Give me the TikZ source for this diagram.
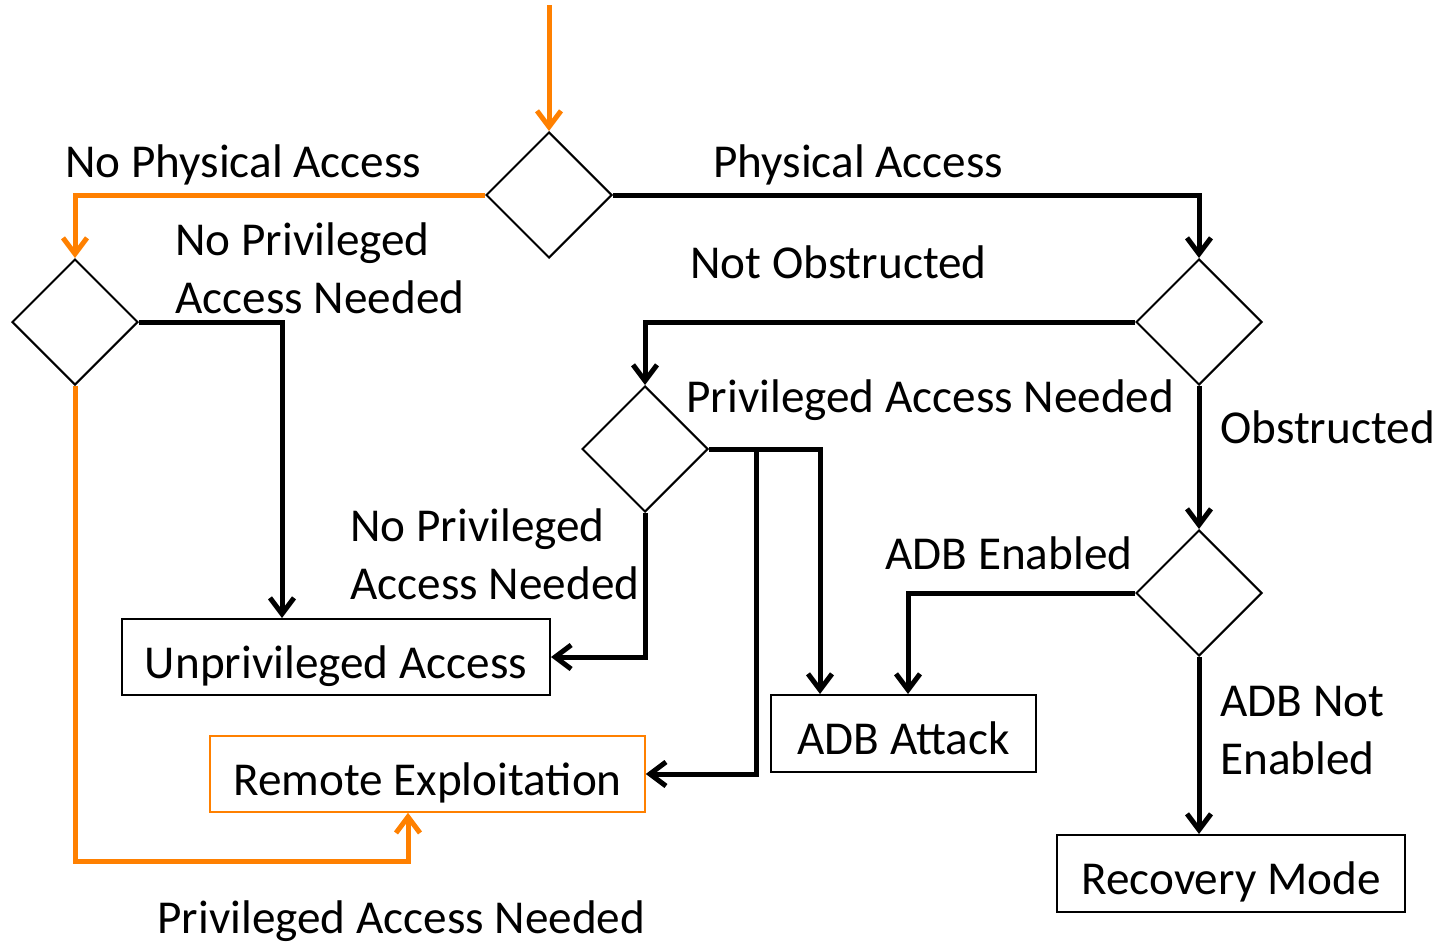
\documentclass[tikz,border=0pt]{standalone}
\usepackage{fontspec}
\setmainfont{Carlito}
\usetikzlibrary{arrows.meta,shapes.geometric}
\definecolor{orng}{RGB}{255,128,0}
\begin{document}
\begin{tikzpicture}[x=0.5pt,y=-0.5pt,
  every node/.style={font=\fontsize{23.6}{29}\selectfont},
  dec/.style={draw=black,line width=1pt,shape=diamond,aspect=1,inner sep=0pt,minimum width=63pt,minimum height=63pt},
  box/.style={draw=black,line width=1pt,inner sep=0pt,text height=23pt,text depth=2pt},
  obox/.style={draw=orng,line width=0.8pt,inner sep=0pt,text height=23pt,text depth=2pt},
  conn/.style={draw=black,line width=2.5pt,-{Straight Barb[length=8pt,width=12pt]}},
  oconn/.style={draw=orng,line width=2.5pt,-{Straight Barb[length=8pt,width=12pt]}},
  lbl/.style={anchor=base west,inner sep=0pt,align=left}]
\useasboundingbox (0,0) rectangle (1442,942);
% decisions
\node[dec] (d1) at (549,195) {};
\node[dec] (d2) at (75,322) {};
\node[dec] (d3) at (1199,322) {};
\node[dec] (d4) at (645,449) {};
\node[dec] (d5) at (1199,593) {};
% outcomes
\node[box,minimum width=214pt,minimum height=38pt] (unpriv) at (336,657) {Unprivileged Access};
\node[obox,minimum width=217.5pt,minimum height=38pt] (remote) at (427.5,774) {Remote Exploitation};
\node[box,minimum width=132.5pt,minimum height=38.5pt] (adb) at (903.5,733.5) {ADB Attack};
\node[box,minimum width=174pt,minimum height=38.5pt] (rec) at (1231,873.5) {Recovery Mode};
% coordinates
\coordinate (start) at (549,5);
\coordinate (br) at (756,449);
% connectors
\draw[oconn] (start) -- (d1.north);
\draw[oconn] (d1.west) -| (d2.north);
\draw[conn] (d2.east) -| ([xshift=-27pt]unpriv.north);
\draw[oconn] (d2.south) -- ++(0,475) -| ([xshift=-9.75pt]remote.south);
\draw[conn] (d1.east) -| (d3.north);
\draw[conn] (d3.west) -| (d4.north);
\draw[conn] (d4.south) |- (unpriv.east);
\draw[conn] (d4.east) -| ([xshift=-41.75pt]adb.north);
\draw[conn] (br) |- (remote.east);
\draw[conn] (d3.south) -- (d5.north);
\draw[conn] (d5.west) -| ([xshift=2.25pt]adb.north);
\draw[conn] (d5.south) -- (d5.south |- rec.north);
% labels
\node[lbl] (l1) at (65,177) {No Physical Access};
\node[lbl] (l2) at (713,177) {Physical Access};
\node[lbl] (l3) at (175,313) {No Privileged\\Access Needed};
\node[lbl] (l4) at (690,278) {Not Obstructed};
\node[lbl] (l5) at (686,412) {Privileged Access Needed};
\node[lbl] (l6) at (1220,443) {Obstructed};
\node[lbl] (l7) at (350,599) {No Privileged\\Access Needed};
\node[lbl] (l8) at (885,569) {ADB Enabled};
\node[lbl] (l9) at (1220,774) {ADB Not\\Enabled};
\node[lbl] (l10) at (157,933) {Privileged Access Needed};
\end{tikzpicture}
\end{document}
